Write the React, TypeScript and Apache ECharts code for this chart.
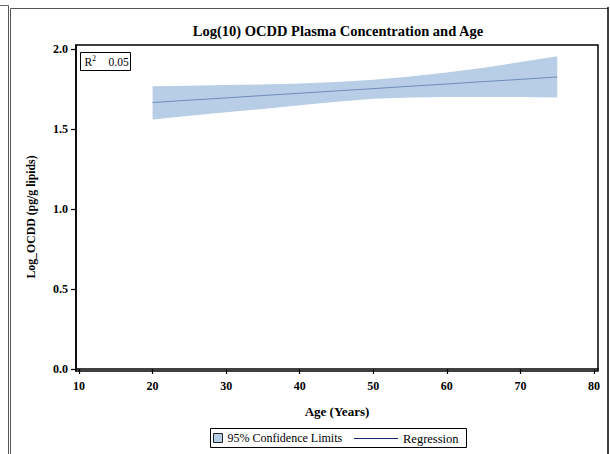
import React, { useEffect, useRef } from "react";
import * as echarts from "echarts";

// Age grid (years) at which the fitted line and its 95% limits are evaluated
const ages = [20, 25, 30, 35, 40, 45, 50, 55, 60, 65, 70, 75];
const fitted = [1.667, 1.682, 1.696, 1.711, 1.725, 1.740, 1.754, 1.769, 1.783, 1.798, 1.812, 1.827];
const upper95 = [1.769, 1.772, 1.776, 1.780, 1.786, 1.796, 1.810, 1.830, 1.855, 1.885, 1.920, 1.956];
const lower95 = [1.561, 1.584, 1.606, 1.627, 1.650, 1.672, 1.690, 1.698, 1.702, 1.702, 1.701, 1.698];

const xTicks = [10, 20, 30, 40, 50, 60, 70, 80];
const yTicks = [0, 0.5, 1.0, 1.5, 2.0];
const rSquared = "0.05";

const SERIF = "Liberation Serif";
const BAND = "#b8cde6";
const LINE = "#6d8bbb";

export default function App() {
  const ref = useRef<HTMLDivElement>(null);

  useEffect(() => {
    if (!ref.current) return;
    const chart = echarts.init(ref.current, null, { renderer: "svg" });

    const bandData = ages.map((a, i) => [a, lower95[i], upper95[i]]);

    chart.setOption({
      animation: false,
      backgroundColor: "#ffffff",
      textStyle: { fontFamily: SERIF, color: "#000" },
      title: {
        text: "Log(10) OCDD Plasma Concentration and Age",
        left: 333,
        top: 18,
        textAlign: "center",
        textStyle: { fontFamily: SERIF, fontSize: 14.5, fontWeight: "bold", color: "#000" },
      },
      grid: { left: 76, top: 45, width: 522, height: 326, show: false },
      xAxis: {
        type: "value",
        min: 9.59,
        max: 80.545,
        name: "Age (Years)",
        nameLocation: "middle",
        nameGap: 34,
        nameTextStyle: { fontFamily: SERIF, fontSize: 13, fontWeight: "bold", color: "#000" },
        axisLine: { show: true, lineStyle: { color: "#000", width: 1.5 } },
        axisTick: { show: true, length: 5, customValues: xTicks, lineStyle: { color: "#000", width: 1.2 } },
        axisLabel: {
          customValues: xTicks,
          margin: 9,
          fontFamily: SERIF,
          fontSize: 12,
          fontWeight: "bold",
          color: "#000",
        },
        splitLine: { show: false },
      },
      yAxis: {
        type: "value",
        min: -0.0125,
        max: 2.027,
        name: "Log_OCDD (pg/g lipids)",
        nameLocation: "middle",
        nameGap: 39,
        nameTextStyle: {
          fontFamily: SERIF,
          fontSize: 11.8,
          fontWeight: "bold",
          color: "#000",
          padding: [0, 18, 0, 0],
        },
        axisLine: { show: true, lineStyle: { color: "#000", width: 1.5 } },
        axisTick: { show: true, length: 5, customValues: yTicks, lineStyle: { color: "#000", width: 1.2 } },
        axisLabel: {
          customValues: yTicks,
          margin: 8,
          fontFamily: SERIF,
          fontSize: 12,
          fontWeight: "bold",
          color: "#000",
          formatter: (v: number) => v.toFixed(1),
        },
        splitLine: { show: false },
      },
      legend: [
        {
          data: [
            {
              name: "95% Confidence Limits",
              icon: "rect",
              itemStyle: { color: BAND, borderColor: "#222", borderWidth: 1 },
            },
          ],
          left: 213,
          top: 432,
          itemWidth: 9,
          itemHeight: 9,
          itemGap: 6,
          padding: 0,
          selectedMode: false,
          textStyle: { fontFamily: SERIF, fontSize: 12, color: "#000" },
        },
        {
          data: [
            {
              name: "Regression",
              icon: "path://M0 0H44V1H0Z",
              itemStyle: { color: "#142a6e" },
            },
          ],
          left: 354,
          top: 432,
          itemWidth: 44,
          itemHeight: 10,
          padding: 0,
          selectedMode: false,
          textStyle: { fontFamily: SERIF, fontSize: 12.5, color: "#000" },
        },
      ],
      graphic: [
        // outer page frame lines
        { type: "line", shape: { x1: 0, y1: 5.5, x2: 8.5, y2: 5.5 }, style: { stroke: "#666", lineWidth: 1 } },
        { type: "line", shape: { x1: 8.5, y1: 5.5, x2: 8.5, y2: 454 }, style: { stroke: "#555", lineWidth: 1 } },
        { type: "line", shape: { x1: 10.5, y1: 8.5, x2: 608, y2: 8.5 }, style: { stroke: "#555", lineWidth: 1 } },
        { type: "line", shape: { x1: 10.5, y1: 8.5, x2: 10.5, y2: 454 }, style: { stroke: "#555", lineWidth: 1 } },
        { type: "line", shape: { x1: 608, y1: 7, x2: 608, y2: 454 }, style: { stroke: "#000", lineWidth: 1.5 } },
        // plot frame
        {
          type: "rect",
          shape: { x: 76, y: 45, width: 522, height: 326 },
          style: { fill: "none", stroke: "#000", lineWidth: 1.5 },
          z: 10,
        },
        // R-square inset
        {
          type: "group",
          left: 80,
          top: 52,
          z: 20,
          children: [
            {
              type: "rect",
              shape: { x: 0, y: 0, width: 50, height: 18 },
              style: { fill: "#fff", stroke: "#000", lineWidth: 1 },
            },
            {
              type: "text",
              x: 4,
              y: 9,
              style: {
                text: "{r|R}{s|2}",
                verticalAlign: "middle",
                rich: {
                  r: { fontFamily: SERIF, fontSize: 11.5, fill: "#000" },
                  s: { fontFamily: SERIF, fontSize: 7.5, fill: "#000", verticalAlign: "top", padding: [0, 0, 6, 0] },
                },
              },
            },
            {
              type: "text",
              x: 28,
              y: 9,
              style: { text: rSquared, fontFamily: SERIF, fontSize: 11.5, fill: "#000", verticalAlign: "middle" },
            },
          ],
        },
        // legend frame
        {
          type: "rect",
          shape: { x: 210.5, y: 428.5, width: 256, height: 19 },
          style: { fill: "none", stroke: "#000", lineWidth: 1 },
        },
      ],
      series: [
        {
          name: "95% Confidence Limits",
          type: "custom",
          data: bandData,
          encode: { x: 0, y: [1, 2] },
          itemStyle: { color: BAND },
          renderItem: (params: any, api: any) => {
            if (params.dataIndex !== 0) return null;
            const top = ages.map((a, i) => api.coord([a, upper95[i]]));
            const bottom = ages.map((a, i) => api.coord([a, lower95[i]])).reverse();
            return {
              type: "polygon",
              shape: { points: top.concat(bottom) },
              style: { fill: BAND, stroke: "none" },
            };
          },
          z: 1,
        },
        {
          name: "Regression",
          type: "line",
          data: ages.map((a, i) => [a, fitted[i]]),
          symbol: "none",
          lineStyle: { color: LINE, width: 1 },
          itemStyle: { color: LINE },
          z: 2,
        },
      ],
    });

    return () => chart.dispose();
  }, []);

  return (
    <div
      ref={ref}
      style={{ position: "fixed", left: 0, top: 0, width: 610, height: 454 }}
    />
  );
}
